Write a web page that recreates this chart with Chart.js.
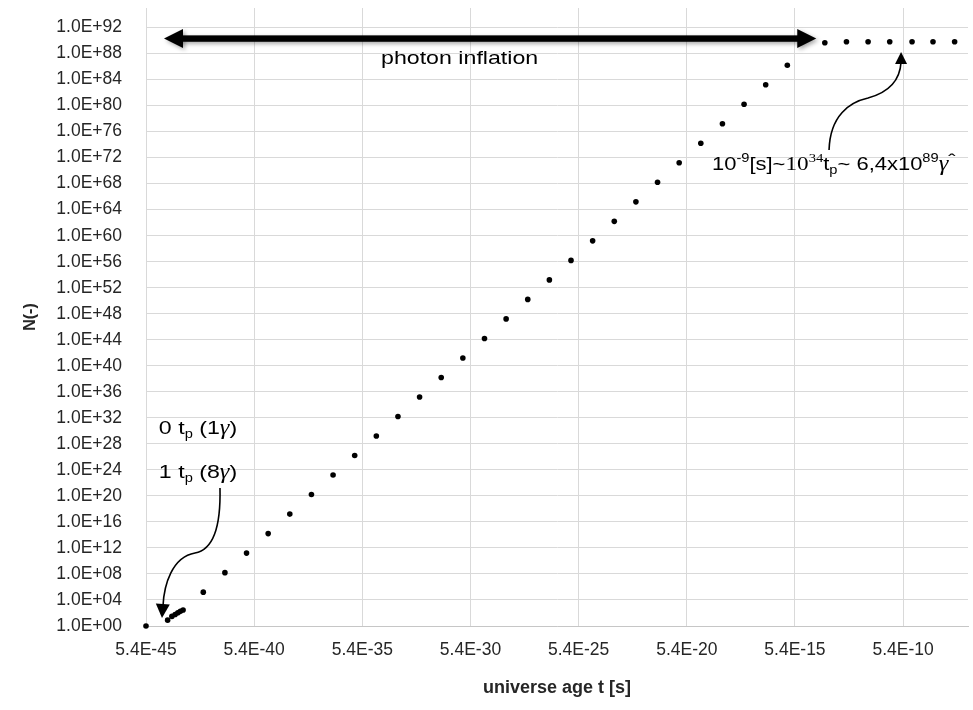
<!DOCTYPE html>
<html>
<head>
<meta charset="utf-8">
<script src="https://cdn.jsdelivr.net/npm/chart.js@4.4.0/dist/chart.umd.min.js"></script>
<style>
  html, body { margin: 0; padding: 0; background: #fff; }
  #wrap { width: 973px; height: 710px; }
</style>
</head>
<body>
<div id="wrap"><canvas id="ageChart" width="973" height="710"></canvas></div>
<script>
// universe age t [s] and photon count N(-)
const timeValues = [
  5.4e-45, 5.4e-44, 8.5e-44, 1.2e-43, 1.6e-43, 2.1e-43, 2.8e-43,
  2.4e-42, 2.4e-41, 2.4e-40, 2.4e-39, 2.4e-38, 2.4e-37, 2.4e-36, 2.4e-35,
  2.4e-34, 2.4e-33, 2.4e-32, 2.4e-31, 2.4e-30, 2.4e-29, 2.4e-28, 2.4e-27,
  2.4e-26, 2.4e-25, 2.4e-24, 2.4e-23, 2.4e-22, 2.4e-21, 2.4e-20, 2.4e-19,
  2.4e-18, 2.4e-17, 2.4e-16, 2.4e-15,
  1.3e-13, 1.3e-12, 1.3e-11, 1.3e-10, 1.4e-9, 1.3e-8, 1.3e-7
];
const photonCounts = [
  1, 8, 30, 60, 110, 180, 290,
  1.6e5, 1.6e8, 1.6e11, 1.6e14, 1.6e17, 1.6e20, 1.6e23, 1.6e26,
  1.6e29, 1.6e32, 1.6e35, 1.6e38, 1.6e41, 1.6e44, 1.6e47, 1.6e50,
  1.6e53, 1.6e56, 1.6e59, 1.6e62, 1.6e65, 1.6e68, 1.6e71, 1.6e74,
  1.6e77, 1.6e80, 1.6e83, 1.6e86,
  4.5e89, 6.4e89, 6.4e89, 6.4e89, 6.4e89, 6.4e89, 6.4e89
];

const xTickValues = [5.4e-45, 5.4e-40, 5.4e-35, 5.4e-30, 5.4e-25, 5.4e-20, 5.4e-15, 5.4e-10];
const xTickLabels = ['5.4E-45', '5.4E-40', '5.4E-35', '5.4E-30', '5.4E-25', '5.4E-20', '5.4E-15', '5.4E-10'];
const yTickValues = [1e0, 1e4, 1e8, 1e12, 1e16, 1e20, 1e24, 1e28, 1e32, 1e36, 1e40, 1e44,
  1e48, 1e52, 1e56, 1e60, 1e64, 1e68, 1e72, 1e76, 1e80, 1e84, 1e88, 1e92];
const yTickLabels = ['1.0E+00', '1.0E+04', '1.0E+08', '1.0E+12', '1.0E+16', '1.0E+20', '1.0E+24',
  '1.0E+28', '1.0E+32', '1.0E+36', '1.0E+40', '1.0E+44', '1.0E+48', '1.0E+52', '1.0E+56',
  '1.0E+60', '1.0E+64', '1.0E+68', '1.0E+72', '1.0E+76', '1.0E+80', '1.0E+84', '1.0E+88', '1.0E+92'];

const SANS = '"Liberation Sans", Arial, sans-serif';
const SERIF = '"Liberation Serif", serif';
const STRETCH = 1.22; // the source text looks widened

function drawRuns(ctx, x, y, runs, align) {
  let total = 0;
  runs.forEach(r => { ctx.font = r.font; r.w = ctx.measureText(r.text).width; total += r.w; });
  ctx.save();
  ctx.translate(x, y);
  ctx.scale(STRETCH, 1);
  let cx = align === 'center' ? -total / 2 : 0;
  runs.forEach(r => {
    ctx.font = r.font;
    ctx.fillText(r.text, cx, r.dy || 0);
    cx += r.w;
  });
  ctx.restore();
}

function arrowHead(ctx, tx, ty, angle, len, half) {
  ctx.save();
  ctx.translate(tx, ty);
  ctx.rotate(angle);
  ctx.beginPath();
  ctx.moveTo(0, 0);
  ctx.lineTo(-len, -half);
  ctx.lineTo(-len, half);
  ctx.closePath();
  ctx.fill();
  ctx.restore();
}

const notesPlugin = {
  id: 'notes',
  afterDraw(chart) {
    const ctx = chart.ctx;
    const X = v => chart.scales.x.getPixelForValue(v);
    const Y = v => chart.scales.y.getPixelForValue(v);
    ctx.save();
    ctx.fillStyle = '#000';
    ctx.strokeStyle = '#000';
    ctx.textBaseline = 'alphabetic';
    ctx.textAlign = 'left';

    // photon inflation double arrow
    const ax1 = X(3.66e-44), ax2 = X(5.2e-14), ay = Y(2e90);
    ctx.save();
    ctx.shadowColor = 'rgba(0,0,0,0.35)';
    ctx.shadowBlur = 4;
    ctx.shadowOffsetX = 2;
    ctx.shadowOffsetY = 2;
    ctx.fillRect(ax1 + 15, ay - 3.2, ax2 - ax1 - 30, 6.4);
    arrowHead(ctx, ax1, ay, Math.PI, 19, 9.5);
    arrowHead(ctx, ax2, ay, 0, 19, 9.5);
    ctx.restore();
    drawRuns(ctx, X(1.7e-30), Y(2.5e86), [{ text: 'photon inflation', font: '19px ' + SANS }], 'center');

    // 0 tp / 1 tp labels
    const gam = 'italic 20px ' + SERIF;
    drawRuns(ctx, X(1.37e-42), Y(3.3e29), [
      { text: '0 t', font: '19px ' + SANS },
      { text: 'p', font: '12px ' + SANS, dy: 4 },
      { text: ' (1', font: '19px ' + SANS },
      { text: '\u03b3', font: gam },
      { text: ')', font: '19px ' + SANS }
    ], 'center');
    drawRuns(ctx, X(1.37e-42), Y(5.6e22), [
      { text: '1 t', font: '19px ' + SANS },
      { text: 'p', font: '12px ' + SANS, dy: 4 },
      { text: ' (8', font: '19px ' + SANS },
      { text: '\u03b3', font: gam },
      { text: ')', font: '19px ' + SANS }
    ], 'center');

    // curved arrow to 1 tp
    const bx = X(2.96e-44), by = Y(17);
    ctx.lineWidth = 1.6;
    ctx.beginPath();
    ctx.moveTo(bx + 58, by - 130);
    ctx.bezierCurveTo(bx + 59, by - 88, bx + 50, by - 68, bx + 33, by - 65);
    ctx.bezierCurveTo(bx + 10, by - 61, bx + 2, by - 33, bx + 1, by - 12);
    ctx.stroke();
    arrowHead(ctx, bx, by, Math.PI / 2 + 0.06, 14, 7);

    // curved arrow to the plateau
    const cx = X(4.34e-10), cy = Y(1.7e88);
    ctx.beginPath();
    ctx.moveTo(cx - 72, cy + 98);
    ctx.bezierCurveTo(cx - 71, cy + 63, cx - 51, cy + 50, cx - 33, cy + 46);
    ctx.bezierCurveTo(cx - 11, cy + 40, cx - 1, cy + 28, cx, cy + 10);
    ctx.stroke();
    arrowHead(ctx, cx, cy, -Math.PI / 2, 12, 6);

    drawRuns(ctx, X(7.9e-19), Y(1.3e70), [
      { text: '10', font: '18px ' + SANS },
      { text: '-9', font: '12px ' + SANS, dy: -8 },
      { text: '[s]~', font: '18px ' + SANS },
      { text: '10', font: '19px ' + SERIF },
      { text: '34', font: '12px ' + SERIF, dy: -8 },
      { text: 't', font: '18px ' + SANS },
      { text: 'p', font: '12px ' + SANS, dy: 4 },
      { text: '~ 6,4x10', font: '18px ' + SANS },
      { text: '89', font: '12px ' + SANS, dy: -8 },
      { text: '\u03b3', font: 'italic 20px ' + SERIF },
      { text: '\u02c6', font: '18px ' + SANS, dy: -3 }
    ], 'left');

    ctx.restore();
  }
};

const points = timeValues.map((t, i) => ({ x: t, y: photonCounts[i] }));

new Chart(document.getElementById('ageChart'), {
  type: 'scatter',
  data: {
    datasets: [{
      label: 'N',
      data: points,
      backgroundColor: '#000',
      borderWidth: 0,
      pointRadius: 2.8,
      showLine: false,
      clip: false
    }]
  },
  options: {
    responsive: false,
    animation: false,
    devicePixelRatio: 1,
    layout: { padding: { top: 8, right: 5, left: 0, bottom: 0 } },
    plugins: { legend: { display: false }, tooltip: { enabled: false } },
    scales: {
      x: {
        type: 'logarithmic',
        min: 5.4e-45,
        max: 5.4e-7,
        afterBuildTicks: s => { s.ticks = xTickValues.map(v => ({ value: v })); },
        afterFit: s => { s.height = 84; s.paddingLeft = 0; s.paddingRight = 0; },
        ticks: {
          autoSkip: false, maxRotation: 0, padding: 14, color: '#262626',
          font: { family: SANS, size: 17.5 },
          callback: (v, i) => xTickLabels[i]
        },
        grid: { color: '#d9d9d9', drawTicks: false },
        border: { color: '#c6c6c6' },
        title: {
          display: true, text: 'universe age t [s]', color: '#262626',
          font: { family: SANS, size: 18, weight: 'bold' },
          padding: { top: 0, bottom: 11 }
        }
      },
      y: {
        type: 'logarithmic',
        min: 1,
        max: 1e95,
        afterBuildTicks: s => { s.ticks = yTickValues.map(v => ({ value: v })); },
        afterFit: s => { s.width = 146; s.paddingTop = 0; s.paddingBottom = 0; },
        ticks: {
          autoSkip: false, padding: 24, color: '#262626',
          font: { family: SANS, size: 17.5 },
          callback: (v, i) => yTickLabels[i]
        },
        grid: { color: '#d9d9d9', drawTicks: false },
        border: { color: '#d9d9d9' },
        title: {
          display: true, text: 'N(-)', color: '#262626',
          font: { family: SANS, size: 16, weight: 'bold' },
          padding: { top: 21, bottom: 0 }
        }
      }
    }
  },
  plugins: [notesPlugin]
});
</script>
</body>
</html>
